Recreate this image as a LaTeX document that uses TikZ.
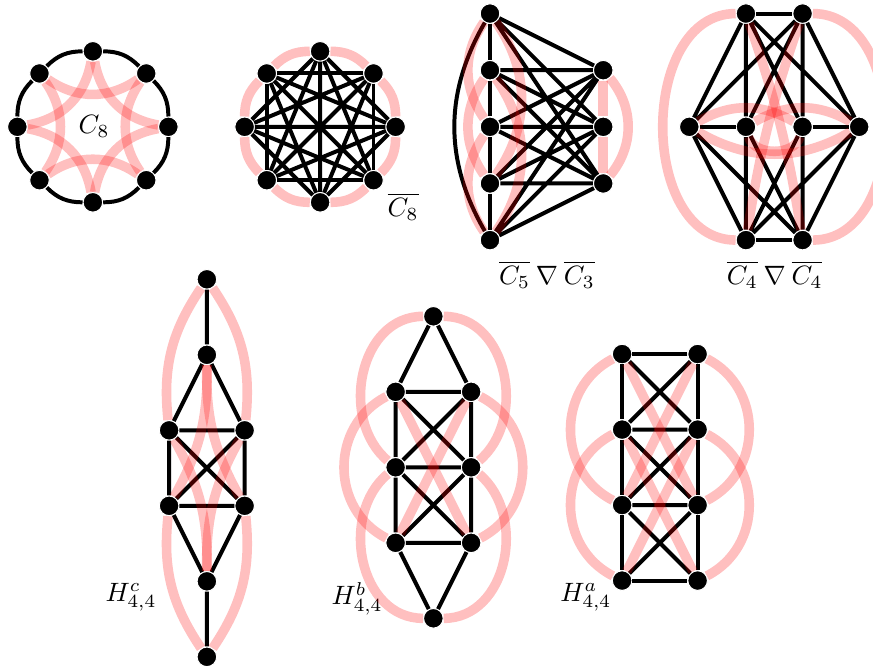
\documentclass[tikz,border=0pt]{standalone}
\usepackage{amsmath,amssymb}
\usepackage{tikz}

\begin{document}
\begin{tikzpicture}[every node/.style={circle,fill=black,draw=white,line width=0.4pt,inner sep=0pt,minimum size=0.26cm},
		edge/.style={line width=1.5pt},
		redge/.style={red,opacity=0.25,line width=3.6pt},
		lbl/.style={rectangle,fill=none,draw=none,inner sep=1pt,minimum size=0pt}]
			\useasboundingbox (0,0) rectangle (11.563,-8.821);
			
			% C_8
			\node (p1) at (1.23,-0.68) {};
			\node (p2) at (0.523,-0.973) {};
			\node (p3) at (0.23,-1.68) {};
			\node (p4) at (0.523,-2.387) {};
			\node (p5) at (1.23,-2.68) {};
			\node (p6) at (1.937,-2.387) {};
			\node (p7) at (2.23,-1.68) {};
			\node (p8) at (1.937,-0.973) {};
			\node[lbl] (c8) at (1.245,-1.68) {$C_8$};
			
			\draw[edge] (p1) to[bend right=22.5] (p2); \draw[edge] (p2) to[bend right=22.5] (p3);
			\draw[edge] (p3) to[bend right=22.5] (p4); \draw[edge] (p4) to[bend right=22.5] (p5);
			\draw[edge] (p5) to[bend right=22.5] (p6); \draw[edge] (p6) to[bend right=22.5] (p7);
			\draw[edge] (p7) to[bend right=22.5] (p8); \draw[edge] (p8) to[bend right=22.5] (p1);
			\draw[redge] (p1) to[bend left=35] (p3); \draw[redge] (p3) to[bend left=35] (p5);
			\draw[redge] (p5) to[bend left=35] (p7); \draw[redge] (p7) to[bend left=35] (p1);
			\draw[redge] (p2) to[bend left=35] (p4); \draw[redge] (p4) to[bend left=35] (p6);
			\draw[redge] (p6) to[bend left=35] (p8); \draw[redge] (p8) to[bend left=35] (p2);
			
			% complement of C_8
			\node (q1) at (4.24,-0.68) {};
			\node (q2) at (3.533,-0.973) {};
			\node (q3) at (3.24,-1.68) {};
			\node (q4) at (3.533,-2.387) {};
			\node (q5) at (4.24,-2.68) {};
			\node (q6) at (4.947,-2.387) {};
			\node (q7) at (5.24,-1.68) {};
			\node (q8) at (4.947,-0.973) {};
			\node[lbl] (c8bar) at (5.34,-2.74) {$\overline{C_8}$};
			
			\draw[edge] (q1)--(q3) (q3)--(q5) (q5)--(q7) (q7)--(q1);
			\draw[edge] (q2)--(q4) (q4)--(q6) (q6)--(q8) (q8)--(q2);
			\draw[edge] (q1)--(q4) (q4)--(q7) (q7)--(q2) (q2)--(q5) (q5)--(q8) (q8)--(q3) (q3)--(q6) (q6)--(q1);
			\draw[edge] (q1)--(q5) (q2)--(q6) (q3)--(q7) (q4)--(q8);
			\draw[redge] (q1) to[bend right=22.5] (q2); \draw[redge] (q2) to[bend right=22.5] (q3);
			\draw[redge] (q3) to[bend right=22.5] (q4); \draw[redge] (q4) to[bend right=22.5] (q5);
			\draw[redge] (q5) to[bend right=22.5] (q6); \draw[redge] (q6) to[bend right=22.5] (q7);
			\draw[redge] (q7) to[bend right=22.5] (q8); \draw[redge] (q8) to[bend right=22.5] (q1);
			
			% join of C_5 bar and C_3 bar
			\node (l1) at (6.49,-0.18) {};
			\node (l2) at (6.49,-0.93) {};
			\node (l3) at (6.49,-1.68) {};
			\node (l4) at (6.49,-2.43) {};
			\node (l5) at (6.49,-3.18) {};
			\node (r1) at (7.99,-0.93) {};
			\node (r2) at (7.99,-1.68) {};
			\node (r3) at (7.99,-2.43) {};
			\node[lbl] (join1) at (7.245,-3.64) {$\overline{C_5}\mathbin{\nabla}\overline{C_3}$};
			
			\draw[edge] (l1)--(l2) (l2)--(l3) (l3)--(l4) (l4)--(l5);
			\draw[edge] (l1) to[bend right=30] (l5);
			\draw[edge] (l1)--(r1) (l1)--(r2) (l1)--(r3) (l2)--(r1) (l2)--(r2) (l2)--(r3) (l3)--(r1) (l3)--(r2) (l3)--(r3);
			\draw[edge] (l4)--(r1) (l4)--(r2) (l4)--(r3) (l5)--(r1) (l5)--(r2) (l5)--(r3);
			\draw[redge] (l1) to[bend right=35] (l3); \draw[redge] (l2) to[bend right=35] (l4);
			\draw[redge] (l3) to[bend right=35] (l5);
			\draw[redge] (l1) to[bend left=35] (l4); \draw[redge] (l2) to[bend left=35] (l5);
			\draw[redge] (r1)--(r2); \draw[redge] (r2)--(r3); \draw[redge] (r1) to[bend left=40] (r3);
			
			% join of C_4 bar and C_4 bar
			\node (t1) at (9.88,-0.18) {};
			\node (t2) at (10.63,-0.18) {};
			\node (m1) at (9.13,-1.68) {};
			\node (m2) at (9.88,-1.68) {};
			\node (m3) at (10.63,-1.68) {};
			\node (m4) at (11.38,-1.68) {};
			\node (d1) at (9.88,-3.18) {};
			\node (d2) at (10.63,-3.18) {};
			\node[lbl] (join2) at (10.26,-3.64) {$\overline{C_4}\mathbin{\nabla}\overline{C_4}$};
			
			\draw[edge] (t1)--(t2) (d1)--(d2) (m1)--(m2) (m3)--(m4);
			\draw[edge] (t1)--(m1) (t1)--(m2) (t1)--(m3) (t1)--(m4) (t2)--(m1) (t2)--(m2) (t2)--(m3) (t2)--(m4);
			\draw[edge] (d1)--(m1) (d1)--(m2) (d1)--(m3) (d1)--(m4) (d2)--(m1) (d2)--(m2) (d2)--(m3) (d2)--(m4);
			\draw[redge] (t1) to[out=180,in=180,looseness=1.1] (d1); \draw[redge] (t2) to[out=0,in=0,looseness=1.1] (d2);
			\draw[redge] (t1) to[bend left=5] (d2); \draw[redge] (t2) to[bend right=5] (d1);
			\draw[redge] (m1) to[bend left=30] (m3); \draw[redge] (m2) to[bend left=30] (m4);
			\draw[redge] (m1) to[bend right=30] (m4); \draw[redge] (m2) to[bend right=75] (m3);
			
			% H^c_{4,4}
			\node (c1) at (2.74,-3.70) {};
			\node (c2) at (2.74,-4.70) {};
			\node (c3) at (2.24,-5.70) {};
			\node (c4) at (3.24,-5.70) {};
			\node (c5) at (2.24,-6.70) {};
			\node (c6) at (3.24,-6.70) {};
			\node (c7) at (2.74,-7.70) {};
			\node (c8) at (2.74,-8.70) {};
			\node[lbl] (hc) at (1.735,-7.91) {$H^c_{4,4}$};
			
			\draw[edge] (c1)--(c2) (c2)--(c3) (c3)--(c5) (c5)--(c7) (c7)--(c8);
			\draw[edge] (c2)--(c4) (c4)--(c6) (c6)--(c7);
			\draw[edge] (c3)--(c4) (c5)--(c6) (c3)--(c6) (c4)--(c5);
			\draw[redge] (c1) to[bend right=20] (c3); \draw[redge] (c1) to[bend left=20] (c4);
			\draw[redge] (c5) to[bend right=20] (c8); \draw[redge] (c6) to[bend left=20] (c8);
			\draw[redge] (c2) to[bend left=15] (c5); \draw[redge] (c2) to[bend right=15] (c6);
			\draw[redge] (c7) to[bend right=15] (c3); \draw[redge] (c7) to[bend left=15] (c4);
			
			% H^b_{4,4}
			\node (b1) at (5.74,-4.19) {};
			\node (b2) at (5.24,-5.19) {};
			\node (b3) at (6.24,-5.19) {};
			\node (b4) at (5.24,-6.19) {};
			\node (b5) at (6.24,-6.19) {};
			\node (b6) at (5.24,-7.19) {};
			\node (b7) at (6.24,-7.19) {};
			\node (b8) at (5.74,-8.19) {};
			\node[lbl] (hb) at (4.73,-7.93) {$H^b_{4,4}$};
			
			\draw[edge] (b1)--(b2) (b2)--(b4) (b4)--(b6) (b6)--(b8) (b8)--(b7) (b7)--(b5) (b5)--(b3) (b3)--(b1);
			\draw[edge] (b2)--(b3) (b4)--(b5) (b6)--(b7) (b2)--(b5) (b3)--(b4) (b4)--(b7) (b5)--(b6);
			\draw[redge] (b1) to[out=180,in=140,looseness=1.1] (b4); \draw[redge] (b1) to[out=0,in=40,looseness=1.1] (b5);
			\draw[redge] (b2) to[out=-153,in=153,looseness=1.15] (b6); \draw[redge] (b3) to[out=-27,in=27,looseness=1.15] (b7);
			\draw[redge] (b4) to[out=-140,in=180,looseness=1.1] (b8); \draw[redge] (b5) to[out=-40,in=0,looseness=1.1] (b8);
			\draw[redge] (b2)--(b7); \draw[redge] (b3)--(b6);
			
			% H^a_{4,4}
			\node (a1) at (8.24,-4.69) {};
			\node (a2) at (9.24,-4.69) {};
			\node (a3) at (8.24,-5.69) {};
			\node (a4) at (9.24,-5.69) {};
			\node (a5) at (8.24,-6.69) {};
			\node (a6) at (9.24,-6.69) {};
			\node (a7) at (8.24,-7.69) {};
			\node (a8) at (9.24,-7.69) {};
			\node[lbl] (ha) at (7.76,-7.91) {$H^a_{4,4}$};
			
			\draw[edge] (a1)--(a3) (a3)--(a5) (a5)--(a7) (a7)--(a8) (a8)--(a6) (a6)--(a4) (a4)--(a2) (a2)--(a1);
			\draw[edge] (a3)--(a4) (a5)--(a6) (a1)--(a4) (a2)--(a3) (a3)--(a6) (a4)--(a5) (a5)--(a8) (a6)--(a7);
			\draw[redge] (a1) to[out=-153,in=153,looseness=1.15] (a5); \draw[redge] (a3) to[out=-153,in=153,looseness=1.15] (a7);
			\draw[redge] (a2) to[out=-27,in=27,looseness=1.15] (a6); \draw[redge] (a4) to[out=-27,in=27,looseness=1.15] (a8);
			\draw[redge] (a1)--(a6); \draw[redge] (a2)--(a5); \draw[redge] (a3)--(a8); \draw[redge] (a4)--(a7);
		\end{tikzpicture}
\end{document}
